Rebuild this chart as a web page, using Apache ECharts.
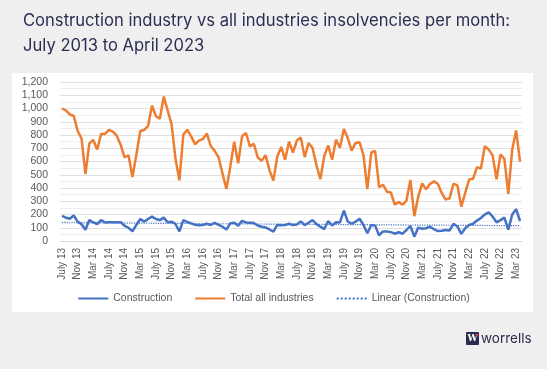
<!DOCTYPE html>
<html>
<head>
<meta charset="utf-8">
<script src="https://cdn.jsdelivr.net/npm/echarts@6/dist/echarts.min.js"></script>
<style>
html,body{margin:0;padding:0;background:#efefef;}
#c{width:547px;height:369px;}
</style>
</head>
<body>
<div id="c"></div>
<script>
// Month names and years for category labels (July 2013 .. April 2023)
const monthNames = ['Jan','Feb','Mar','Apr','May','June','July','Aug','Sep','Oct','Nov','Dec'];
const startMonth = 6, startYear = 13, monthCount = 118;
const categories = [];
for (let k = 0; k < monthCount; k++) {
  const m = (startMonth + k) % 12;
  const y = startYear + Math.floor((startMonth + k) / 12);
  categories.push(monthNames[m] + ' ' + y);
}

const construction = [
  189,176,168,193,146,127,85,158,140,127,158,140,142,142,142,142,115,100,73,121,
  166,146,166,184,166,158,176,141,146,128,72,158,143,133,123,118,120,130,121,136,
  121,108,86,133,138,115,152,140,138,135,117,108,102,87,70,121,118,121,130,120,
  124,148,120,138,158,127,108,90,151,117,142,140,230,146,130,146,168,121,58,121,
  116,42,72,72,67,55,66,55,83,114,33,101,93,96,108,89,75,78,83,80,
  130,110,54,96,121,130,154,174,200,216,184,141,158,176,86,200,240,151
];
const totalAll = [
  1000,985,955,945,830,775,505,737,762,690,808,808,838,825,795,725,632,647,482,650,
  830,838,868,1022,942,922,1090,985,880,620,458,803,840,790,730,757,770,812,717,680,
  632,510,392,561,750,586,790,815,714,734,632,605,648,535,456,638,710,613,750,668,
  758,782,633,740,702,573,466,642,722,613,765,704,846,777,683,740,746,649,392,668,
  679,406,425,372,366,275,293,275,305,460,187,335,435,390,430,450,430,363,312,322,
  432,420,259,363,465,469,558,546,715,690,646,466,654,620,356,690,834,599
];

// Linear trendline of the construction series (least squares)
const n = construction.length;
let sx = 0, sy = 0, sxy = 0, sxx = 0;
construction.forEach((v, i) => { sx += i; sy += v; sxy += i * v; sxx += i * i; });
const slope = (n * sxy - sx * sy) / (n * sxx - sx * sx);
const intercept = (sy - slope * sx) / n;
const linearConstruction = construction.map((v, i) => +(intercept + slope * i).toFixed(2));

const chart = echarts.init(document.getElementById('c'));
chart.setOption({
  backgroundColor: '#efefef',
  animation: false,
  graphic: [
    { type: 'rect', z: -10, shape: { x: 12, y: 73, width: 521, height: 239 }, style: { fill: '#ffffff' } },
    { type: 'text', left: 23, top: 12, style: { text: 'Construction industry vs all industries insolvencies per month:', font: '16.6px Inter', fill: '#2b2e52' } },
    { type: 'text', left: 23, top: 37, style: { text: 'July 2013 to April 2023', font: '16.6px Inter', fill: '#2b2e52' } },
    { type: 'rect', shape: { x: 466, y: 332, width: 13, height: 13, r: 1 }, style: { fill: '#2a2b4d' } },
    { type: 'text', x: 472.5, y: 339, style: { text: 'W', font: 'bold 9px "DejaVu Serif"', fill: '#ffffff', align: 'center', verticalAlign: 'middle' } },
    { type: 'circle', shape: { cx: 477, cy: 335, r: 1.2 }, style: { fill: '#e0344a' } },
    { type: 'text', x: 481, y: 339, style: { text: 'worrells', font: '13.5px Inter', fill: '#2a2b4d', verticalAlign: 'middle' } }
  ],
  legend: {
    bottom: 60,
    left: 'center',
    itemWidth: 30,
    itemHeight: 3,
    itemGap: 22,
    itemStyle: { opacity: 0 },
    textStyle: { color: '#595959', fontSize: 10.5, fontFamily: 'Liberation Sans' },
    data: ['Construction', 'Total all industries', 'Linear (Construction)']
  },
  grid: { left: 60, right: 25, top: 82, bottom: 128, containLabel: false },
  xAxis: {
    type: 'category',
    data: categories,
    boundaryGap: true,
    axisLine: { show: true, lineStyle: { color: '#d9d9d9' } },
    axisTick: { show: false },
    axisLabel: { interval: 3, rotate: 90, color: '#595959', fontSize: 10, fontFamily: 'Liberation Sans', margin: 7 }
  },
  yAxis: {
    type: 'value',
    min: 0, max: 1200, interval: 100,
    axisLine: { show: false },
    axisTick: { show: false },
    axisLabel: { color: '#595959', fontSize: 10.5, fontFamily: 'Liberation Sans', margin: 12,
      formatter: v => v.toLocaleString('en-US') },
    splitLine: { lineStyle: { color: '#e0e0e0', width: 1 } },
    minorTick: { show: false, splitNumber: 2 },
    minorSplitLine: { show: true, lineStyle: { color: '#eeeeee', width: 1 } }
  },
  series: [
    { name: 'Construction', type: 'line', data: construction, symbol: 'none',
      lineStyle: { color: '#4472c4', width: 2.5 }, itemStyle: { color: '#4472c4' }, z: 3 },
    { name: 'Total all industries', type: 'line', data: totalAll, symbol: 'none',
      lineStyle: { color: '#ed7d31', width: 2.5 }, itemStyle: { color: '#ed7d31' }, z: 2 },
    { name: 'Linear (Construction)', type: 'line', data: linearConstruction, symbol: 'none',
      lineStyle: { color: '#4472c4', width: 1.2, type: 'dotted' }, itemStyle: { color: '#4472c4' }, z: 4 }
  ]
});
</script>
</body>
</html>
